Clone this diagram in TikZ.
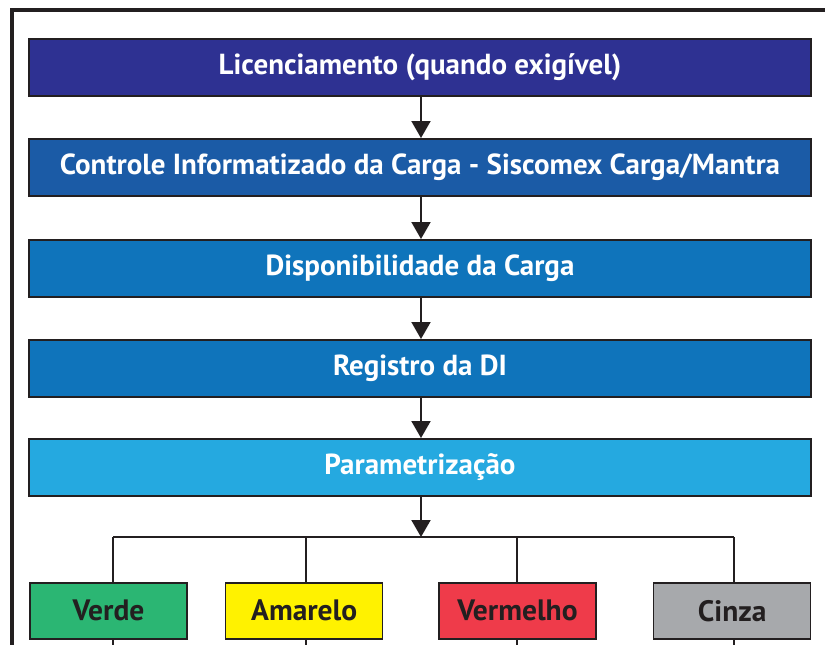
\documentclass[tikz,border=0pt]{standalone}
\usepackage{fontspec}
\setmainfont{PT Sans}
\usetikzlibrary{arrows.meta}
\definecolor{ink}{HTML}{231F20}
\definecolor{cA}{HTML}{2E3192}
\definecolor{cB}{HTML}{1B5BA6}
\definecolor{cC}{HTML}{0F74BB}
\definecolor{cD}{HTML}{25A9E0}
\definecolor{cVerde}{HTML}{2BB673}
\definecolor{cAmarelo}{HTML}{FFF200}
\definecolor{cVermelho}{HTML}{EF3B4A}
\definecolor{cCinza}{HTML}{A7A9AC}
\tikzset{
  mainbox/.style={draw=ink, line width=2.2pt, minimum width=782pt, minimum height=56.5pt, inner sep=0pt,
    text=white, font=\bfseries\fontsize{29}{34}\selectfont, anchor=north},
  colbox/.style={draw=ink, line width=1.5pt, minimum width=157pt, minimum height=56pt, inner sep=0pt,
    text=ink, font=\bfseries\fontsize{29.5}{34}\selectfont, anchor=north},
  flow/.style={draw=ink, line width=2pt, -{Triangle[length=17pt,width=19pt]}},
  wire/.style={draw=ink, line width=2pt},
}
\begin{document}
\begin{tikzpicture}[x=1pt,y=-1pt]
\useasboundingbox (0,0) rectangle (825,645);
\draw[ink, line width=4pt] (11.5,645) -- (11.5,9.5) -- (825,9.5);
\node[mainbox, fill=cA] (b1) at (420,38) {Licenciamento (quando exigível)};
\node[mainbox, fill=cB] (b2) at (420,138) {Controle Informatizado da Carga - Siscomex Carga/Mantra};
\node[mainbox, fill=cC] (b3) at (420,239) {Disponibilidade da Carga};
\node[mainbox, fill=cC] (b4) at (420,339) {Registro da DI};
\node[mainbox, fill=cD] (b5) at (420,438) {Parametrização};
\draw[flow] (b1.south -| 421,0) -- (b2.north -| 421,0);
\draw[flow] (b2.south -| 421,0) -- (b3.north -| 421,0);
\draw[flow] (b3.south -| 421,0) -- (b4.north -| 421,0);
\draw[flow] (b4.south -| 421,0) -- (b5.north -| 421,0);
\coordinate (hub) at (421,537);
\coordinate (hl) at (113.3,537);
\coordinate (hr) at (734,537);
\draw[flow] (b5.south -| 421,0) -- (hub);
\node[colbox, fill=cVerde] (v1) at (108.5,582) {Verde};
\node[colbox, fill=cAmarelo] (v2) at (304.2,582) {Amarelo};
\node[colbox, fill=cVermelho] (v3) at (517.5,582) {Vermelho};
\node[colbox, fill=cCinza] (v4) at (732.2,582) {Cinza};
\coordinate (d2) at (306,537);
\coordinate (d3) at (517.3,537);
\draw[wire] (hl) -- (hr);
\draw[wire] (hl) -- (hl |- v1.north);
\draw[wire] (d2) -- (d2 |- v2.north);
\draw[wire] (d3) -- (d3 |- v3.north);
\draw[wire] (hr) -- (hr |- v4.north);
\coordinate (e1) at (113.3,645);
\coordinate (e2) at (306,645);
\coordinate (e3) at (517.3,645);
\coordinate (e4) at (734,645);
\draw[wire] (e1 |- v1.south) -- (e1);
\draw[wire] (e2 |- v2.south) -- (e2);
\draw[wire] (e3 |- v3.south) -- (e3);
\draw[wire] (e4 |- v4.south) -- (e4);
\end{tikzpicture}
\end{document}
